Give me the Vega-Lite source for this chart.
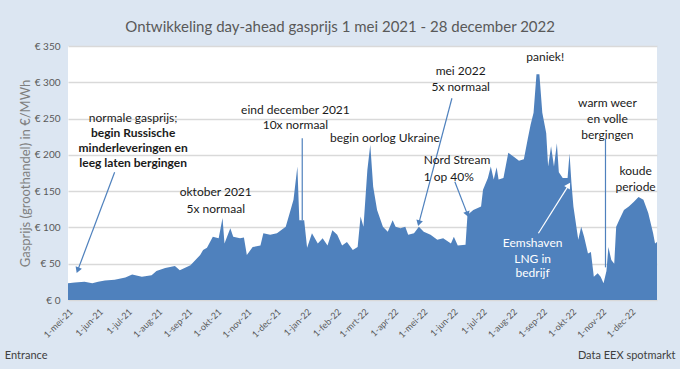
{
  "$schema": "https://vega.github.io/schema/vega-lite/v6.json",
  "width": 589,
  "height": 254,
  "autosize": {"type": "none"},
  "padding": {"left": 68, "top": 46, "right": 23, "bottom": 69},
  "background": "#dce6f2",
  "config": {"view": {"fill": "white", "stroke": null}, "font": "Lato"},
  "title": {"text": "Ontwikkeling day-ahead gasprijs 1 mei 2021 - 28 december 2022", "fontSize": 15, "fontWeight": "normal", "color": "#595959", "anchor": "middle", "frame": "bounds", "offset": 6, "font": "Lato"},
  "datasets": {
    "prices": [
      {"date":"2021-05-01","price":23},{"date":"2021-05-08","price":24},{"date":"2021-05-18","price":25},{"date":"2021-05-26","price":23},
      {"date":"2021-06-01","price":25},{"date":"2021-06-08","price":27},{"date":"2021-06-18","price":28},{"date":"2021-06-29","price":31},
      {"date":"2021-07-06","price":35},{"date":"2021-07-16","price":32},{"date":"2021-07-26","price":34},{"date":"2021-07-31","price":40},
      {"date":"2021-08-09","price":44},{"date":"2021-08-19","price":47},{"date":"2021-08-24","price":41},{"date":"2021-09-04","price":48},
      {"date":"2021-09-14","price":62},{"date":"2021-09-17","price":69},{"date":"2021-09-21","price":72},{"date":"2021-09-27","price":87},
      {"date":"2021-10-03","price":85},{"date":"2021-10-07","price":113},{"date":"2021-10-09","price":78},{"date":"2021-10-15","price":99},
      {"date":"2021-10-18","price":87},{"date":"2021-10-25","price":85},{"date":"2021-10-29","price":86},{"date":"2021-11-01","price":62},
      {"date":"2021-11-07","price":73},{"date":"2021-11-15","price":75},{"date":"2021-11-18","price":92},{"date":"2021-11-25","price":90},
      {"date":"2021-12-02","price":92},{"date":"2021-12-11","price":101},{"date":"2021-12-16","price":124},{"date":"2021-12-19","price":138},
      {"date":"2021-12-23","price":184},{"date":"2021-12-25","price":110},{"date":"2021-12-30","price":110},{"date":"2022-01-02","price":72},
      {"date":"2022-01-07","price":92},{"date":"2022-01-13","price":78},{"date":"2022-01-18","price":85},{"date":"2022-01-23","price":75},
      {"date":"2022-01-28","price":96},{"date":"2022-02-02","price":90},{"date":"2022-02-07","price":75},{"date":"2022-02-12","price":80},
      {"date":"2022-02-18","price":69},{"date":"2022-02-23","price":73},{"date":"2022-02-26","price":115},{"date":"2022-03-01","price":101},
      {"date":"2022-03-05","price":179},{"date":"2022-03-08","price":214},{"date":"2022-03-11","price":156},{"date":"2022-03-15","price":124},
      {"date":"2022-03-21","price":101},{"date":"2022-03-26","price":94},{"date":"2022-03-31","price":110},{"date":"2022-04-03","price":101},
      {"date":"2022-04-08","price":99},{"date":"2022-04-13","price":101},{"date":"2022-04-16","price":90},{"date":"2022-04-22","price":92},
      {"date":"2022-04-27","price":101},{"date":"2022-05-02","price":94},{"date":"2022-05-09","price":90},{"date":"2022-05-16","price":83},
      {"date":"2022-05-22","price":85},{"date":"2022-05-30","price":78},{"date":"2022-06-02","price":87},{"date":"2022-06-06","price":75},
      {"date":"2022-06-14","price":76},{"date":"2022-06-16","price":117},{"date":"2022-06-22","price":124},{"date":"2022-06-30","price":129},
      {"date":"2022-07-02","price":152},{"date":"2022-07-07","price":168},{"date":"2022-07-10","price":184},{"date":"2022-07-13","price":166},
      {"date":"2022-07-16","price":183},{"date":"2022-07-18","price":166},{"date":"2022-07-23","price":168},{"date":"2022-07-28","price":203},
      {"date":"2022-08-03","price":197},{"date":"2022-08-08","price":192},{"date":"2022-08-13","price":194},{"date":"2022-08-17","price":222},
      {"date":"2022-08-20","price":242},{"date":"2022-08-23","price":258},{"date":"2022-08-26","price":311},{"date":"2022-08-29","price":311},
      {"date":"2022-09-01","price":258},{"date":"2022-09-05","price":230},{"date":"2022-09-07","price":184},{"date":"2022-09-10","price":212},
      {"date":"2022-09-13","price":184},{"date":"2022-09-16","price":216},{"date":"2022-09-18","price":176},{"date":"2022-09-22","price":168},
      {"date":"2022-09-27","price":168},{"date":"2022-09-29","price":202},{"date":"2022-10-01","price":161},{"date":"2022-10-03","price":129},
      {"date":"2022-10-08","price":83},{"date":"2022-10-11","price":101},{"date":"2022-10-14","price":87},{"date":"2022-10-18","price":64},
      {"date":"2022-10-21","price":66},{"date":"2022-10-24","price":32},{"date":"2022-10-28","price":37},{"date":"2022-10-31","price":32},
      {"date":"2022-11-03","price":23},{"date":"2022-11-06","price":40},{"date":"2022-11-08","price":73},{"date":"2022-11-11","price":55},
      {"date":"2022-11-14","price":50},{"date":"2022-11-16","price":101},{"date":"2022-11-19","price":110},{"date":"2022-11-24","price":124},
      {"date":"2022-11-29","price":129},{"date":"2022-12-04","price":135},{"date":"2022-12-09","price":142},{"date":"2022-12-14","price":138},
      {"date":"2022-12-19","price":120},{"date":"2022-12-24","price":92},{"date":"2022-12-26","price":78},{"date":"2022-12-28","price":80}
    ],
    "noteC": [
      {"date":"2021-07-07","price":251,"label":"normale gasprijs;"},
      {"date":"2021-09-30","price":149,"label":"oktober 2021"},
      {"date":"2021-09-30","price":126,"label":"5x normaal"},
      {"date":"2021-12-21","price":262,"label":"eind december 2021"},
      {"date":"2021-12-21","price":241,"label":"10x normaal"},
      {"date":"2022-03-23","price":223,"label":"begin oorlog Ukraine"},
      {"date":"2022-06-09","price":315,"label":"mei 2022"},
      {"date":"2022-06-09","price":294,"label":"5x normaal"},
      {"date":"2022-09-04","price":335,"label":"paniek!"},
      {"date":"2022-11-07","price":271,"label":"warm weer"},
      {"date":"2022-11-07","price":249,"label":"en volle"},
      {"date":"2022-11-07","price":227,"label":"bergingen"},
      {"date":"2022-12-06","price":178,"label":"koude"},
      {"date":"2022-12-06","price":156,"label":"periode"}
    ],
    "noteBold": [
      {"date":"2021-07-07","price":230,"label":"begin Russische"},
      {"date":"2021-07-07","price":209,"label":"minderleveringen en"},
      {"date":"2021-07-07","price":189,"label":"leeg laten bergingen"}
    ],
    "noteLeft": [
      {"date":"2022-05-02","price":193,"label":"Nord Stream"},
      {"date":"2022-05-02","price":170,"label":"1 op 40%"}
    ],
    "noteWhite": [
      {"date":"2022-08-22","price":78,"label":"Eemshaven"},
      {"date":"2022-08-22","price":57,"label":"LNG in"},
      {"date":"2022-08-22","price":37,"label":"bedrijf"}
    ],
    "footL": [{"date":"2021-02-25","price":-77,"label":"Entrance"}],
    "footR": [{"date":"2023-01-16","price":-77,"label":"Data EEX spotmarkt"}],
    "arrows": [
      {"id":"a1","date":"2021-06-18","price":176,"date2":"2021-05-11","price2":41},
      {"id":"a2","date":"2021-12-28","price":223,"date2":"2021-12-28","price2":110},
      {"id":"a3","date":"2022-05-31","price":278,"date2":"2022-04-27","price2":106},
      {"id":"a4","date":"2022-06-03","price":163,"date2":"2022-06-16","price2":118},
      {"id":"a5","date":"2022-11-05","price":222,"date2":"2022-11-05","price2":45}
    ],
    "arrowWhite": [
      {"id":"w1","date":"2022-08-28","price":92,"date2":"2022-09-28","price2":158}
    ],
    "heads": [
      {"id":"a1","date":"2021-05-11","price":41},
      {"id":"a3","date":"2022-04-27","price":106},
      {"id":"a4","date":"2022-06-16","price":118},
      {"id":"w1","date":"2022-09-28","price":158}
    ]
  },
  "encoding": {
    "x": {"field": "date", "type": "temporal",
          "scale": {"type": "utc", "domain": [1619827200000, 1672185600000], "nice": false},
          "axis": {"title": null, "tickCount": {"interval": "month", "step": 1}, "labelOverlap": false, "grid": false, "ticks": false, "domain": false,
                   "labelAngle": -45, "labelFontSize": 9, "labelColor": "#595959", "labelPadding": 7, "labelFont": "Lato",
                   "labelExpr": "'1-' + ['jan','feb','mrt','apr','mei','jun','jul','aug','sep','okt','nov','dec'][utcmonth(datum.value)] + '-' + utcFormat(datum.value, '%y')"}},
    "y": {"field": "price", "type": "quantitative",
          "scale": {"domain": [0, 350], "nice": false},
          "axis": {"title": "Gasprijs (groothandel) in €/MWh", "titleFontSize": 13, "titleFontWeight": "normal", "titleColor": "#7f7f7f", "titleFont": "Lato", "titlePadding": 2,
                   "values": [0, 50, 100, 150, 200, 250, 300, 350], "labelOverlap": false, "labelExpr": "'€ ' + datum.value",
                   "labelFontSize": 10, "labelColor": "#595959", "labelPadding": 8, "ticks": false, "domain": false,
                   "grid": true, "gridColor": "#d9d9d9", "gridWidth": 1.5, "labelFont": "Lato"}}
  },
  "layer": [
    {
      "data": {"name": "prices"},
      "mark": {"type": "area", "color": "#4f81bd", "interpolate": "linear"}
    },
    {
      "data": {"name": "arrows"},
      "mark": {"type": "rule", "color": "#4f81bd", "strokeWidth": 1.2},
      "encoding": {"x2": {"field": "date2"}, "y2": {"field": "price2"}}
    },
    {
      "data": {"name": "arrowWhite"},
      "mark": {"type": "rule", "color": "white", "strokeWidth": 1.2},
      "encoding": {"x2": {"field": "date2"}, "y2": {"field": "price2"}}
    },
    {
      "data": {"name": "heads"},
      "transform": [{"filter": "datum.id === 'a1'"}],
      "mark": {"type": "point", "shape": "triangle-up", "filled": true, "color": "#4f81bd", "size": 45, "angle": 201, "opacity": 1}
    },
    {
      "data": {"name": "heads"},
      "transform": [{"filter": "datum.id === 'a3'"}],
      "mark": {"type": "point", "shape": "triangle-up", "filled": true, "color": "#4f81bd", "size": 45, "angle": 195, "opacity": 1}
    },
    {
      "data": {"name": "heads"},
      "transform": [{"filter": "datum.id === 'a4'"}],
      "mark": {"type": "point", "shape": "triangle-up", "filled": true, "color": "#4f81bd", "size": 45, "angle": 159, "opacity": 1}
    },
    {
      "data": {"name": "heads"},
      "transform": [{"filter": "datum.id === 'w1'"}],
      "mark": {"type": "point", "shape": "triangle-up", "filled": true, "color": "white", "size": 45, "angle": 32, "opacity": 1}
    },
    {
      "data": {"name": "noteC"},
      "mark": {"type": "text", "fontSize": 12, "color": "#1a1a1a", "align": "center", "baseline": "middle", "clip": false, "font": "Lato"},
      "encoding": {"text": {"field": "label"}}
    },
    {
      "data": {"name": "noteBold"},
      "mark": {"type": "text", "fontSize": 12, "fontWeight": "bold", "color": "#1a1a1a", "align": "center", "baseline": "middle", "clip": false, "font": "Lato"},
      "encoding": {"text": {"field": "label"}}
    },
    {
      "data": {"name": "noteLeft"},
      "mark": {"type": "text", "fontSize": 12, "color": "#1a1a1a", "align": "left", "baseline": "middle", "clip": false, "font": "Lato"},
      "encoding": {"text": {"field": "label"}}
    },
    {
      "data": {"name": "noteWhite"},
      "mark": {"type": "text", "fontSize": 12, "color": "white", "align": "center", "baseline": "middle", "clip": false, "font": "Lato"},
      "encoding": {"text": {"field": "label"}}
    },
    {
      "data": {"name": "footL"},
      "mark": {"type": "text", "fontSize": 11, "color": "#404040", "align": "left", "baseline": "middle", "clip": false, "font": "Lato"},
      "encoding": {"text": {"field": "label"}}
    },
    {
      "data": {"name": "footR"},
      "mark": {"type": "text", "fontSize": 11, "color": "#404040", "align": "right", "baseline": "middle", "clip": false, "font": "Lato"},
      "encoding": {"text": {"field": "label"}}
    }
  ]
}
